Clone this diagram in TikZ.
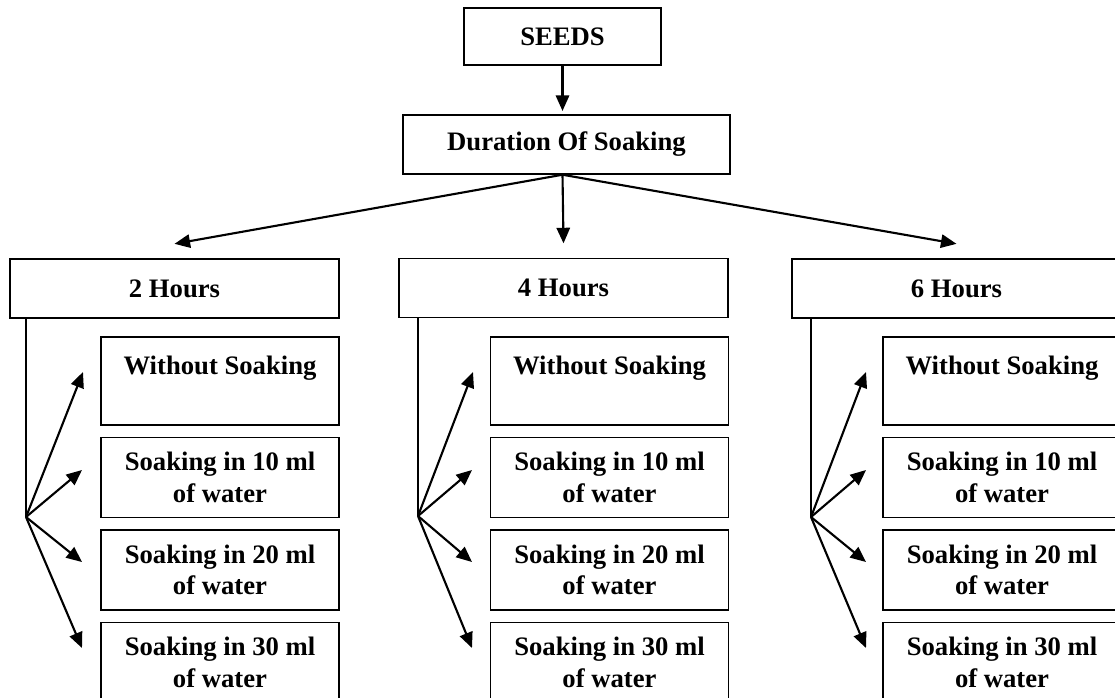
\documentclass[tikz,border=0pt]{standalone}
\usepackage{fontspec}
\setmainfont{Liberation Serif}
\usetikzlibrary{arrows.meta}
\usetikzlibrary{positioning}

\tikzset{
	box/.style={draw,line width=0.6pt,inner sep=0pt,align=center,
		font=\fontsize{12pt}{14.3pt}\selectfont\bfseries},
	seedbox/.style={box,minimum width=88.6pt,minimum height=25.6pt},
	durbox/.style={box,minimum width=147.2pt,minimum height=26.6pt},
	hourbox/.style={box,minimum width=148pt,minimum height=26.6pt},
	subbox/.style={box,minimum width=107.1pt,minimum height=36pt},
	thin line/.style={line width=0.6pt},
	arr/.style={line width=0.95pt,-{Triangle[length=7pt,width=6pt]}}
}

\begin{document}
\begin{tikzpicture}[x=0.45pt,y=-0.45pt,auto,node distance=5pt]
				    \clip (0,0) rectangle (1115,697);

				    % Place nodes
				    \node[seedbox] (seeds) at (562.5,36.5) {SEEDS};
				    \node[durbox] (dur) at (566.5,144.5) {Duration Of Soaking};

				    \node[hourbox] (h2) at (174.5,288.5) {2 Hours};
				    \node[hourbox] (h4) at (563.5,288) {4 Hours};
				    \node[hourbox] (h6) at (956.5,288.5) {6 Hours};

				    % 2 hours
				    \node[subbox,minimum height=39.6pt] (h2a) at (220,381) {Without Soaking\\~};
				    \node[subbox,below=of h2a] (h2b) {Soaking in 10 ml\\of water};
				    \node[subbox,below=of h2b] (h2c) {Soaking in 20 ml\\of water};
				    \node[subbox,below=of h2c] (h2d) {Soaking in 30 ml\\of water};

				    % 4 hours
				    \node[subbox,minimum height=39.6pt] (h4a) at (609.5,381) {Without Soaking\\~};
				    \node[subbox,below=of h4a] (h4b) {Soaking in 10 ml\\of water};
				    \node[subbox,below=of h4b] (h4c) {Soaking in 20 ml\\of water};
				    \node[subbox,below=of h4c] (h4d) {Soaking in 30 ml\\of water};

				    % 6 hours
				    \node[subbox,minimum height=39.6pt] (h6a) at (1002,381) {Without Soaking\\~};
				    \node[subbox,below=of h6a] (h6b) {Soaking in 10 ml\\of water};
				    \node[subbox,below=of h6b] (h6c) {Soaking in 20 ml\\of water};
				    \node[subbox,below=of h6c] (h6d) {Soaking in 30 ml\\of water};

				    % fan points
				    \coordinate (f2) at (26,517);
				    \coordinate (f2a) at (83,372);
				    \coordinate (f2b) at (82,470);
				    \coordinate (f2c) at (82,562);
				    \coordinate (f2d) at (82,648);
				    \coordinate (f4) at (418,516);
				    \coordinate (f4a) at (473,372);
				    \coordinate (f4b) at (472,470);
				    \coordinate (f4c) at (472,562);
				    \coordinate (f4d) at (472,648);
				    \coordinate (f6) at (811,517);
				    \coordinate (f6a) at (866,372);
				    \coordinate (f6b) at (866,470);
				    \coordinate (f6c) at (866,562);
				    \coordinate (f6d) at (866,648);

				    % Arrows
				    \draw[arr,shorten >=1.5pt] (seeds.south) -- (seeds |- dur.north);
				    \draw[arr] (seeds |- dur.south) -- ([yshift=6.5pt]h2.north);
				    \draw[arr] (seeds |- dur.south) -- ([yshift=6.5pt]h4.north);
				    \draw[arr] (seeds |- dur.south) -- ([yshift=6.5pt]h6.north);

				    \draw[thin line] (f2 |- h2.south) -- (f2);
				    \draw[arr] (f2) -- (f2a);
				    \draw[arr] (f2) -- (f2b);
				    \draw[arr] (f2) -- (f2c);
				    \draw[arr] (f2) -- (f2d);

				    \draw[thin line] (f4 |- h4.south) -- (f4);
				    \draw[arr] (f4) -- (f4a);
				    \draw[arr] (f4) -- (f4b);
				    \draw[arr] (f4) -- (f4c);
				    \draw[arr] (f4) -- (f4d);

				    \draw[thin line] (f6 |- h6.south) -- (f6);
				    \draw[arr] (f6) -- (f6a);
				    \draw[arr] (f6) -- (f6b);
				    \draw[arr] (f6) -- (f6c);
				    \draw[arr] (f6) -- (f6d);
				\end{tikzpicture}
\end{document}
